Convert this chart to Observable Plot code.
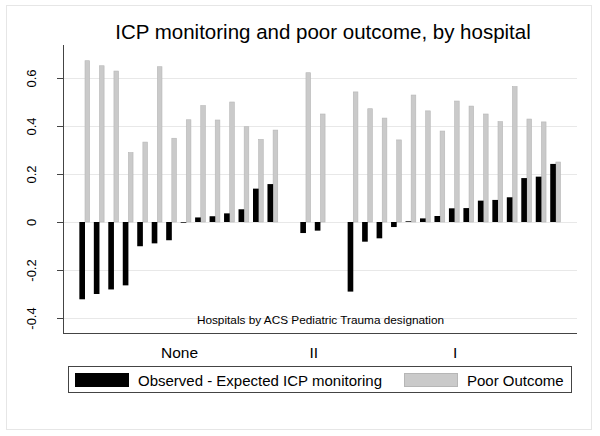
<!DOCTYPE html>
<html>
<head>
<meta charset="utf-8">
<script src="https://cdn.jsdelivr.net/npm/d3@7"></script>
<script src="https://cdn.jsdelivr.net/npm/@observablehq/plot@0.6"></script>
<style>
  body { margin: 0; background: #fff; }
  #wrap { position: relative; width: 600px; height: 436px; background: #fff;
          font-family: "Liberation Sans", Arial, sans-serif; color: #000; overflow: hidden; }
  #border { position: absolute; left: 6px; top: 5px; width: 584px; height: 423px; border: 1px solid #e6e6e6; }
  #title { position: relative; height: 23px; padding-top: 22px; padding-left: 46px; width: 554px;
           text-align: center; font-size: 20.5px; line-height: 20px; white-space: nowrap; }
  #chart { position: relative; height: 317px; }
  #legend { position: relative; margin-left: 68px; margin-top: 4px; width: 502px; height: 25px;
            border: 1px solid #444; font-size: 15px; line-height: 14px; }
  .sw { position: absolute; top: 6px; width: 54px; height: 14px; box-sizing: border-box; }
  .lt { position: absolute; top: 7px; white-space: nowrap; }
</style>
</head>
<body>
<div id="wrap">
  <div id="border"></div>
  <div id="title"></div>
  <div id="chart"></div>
  <div id="legend"></div>
</div>
<script>
// ---- Data ----
const titleText = "ICP monitoring and poor outcome, by hospital";
const captionText = "Hospitals by ACS Pediatric Trauma designation";
const designations = ["None", "II", "I"];
const seriesNames = ["Observed - Expected ICP monitoring", "Poor Outcome"];
const yTicks = [-0.4, -0.2, 0, 0.2, 0.4, 0.6];

const observedNone = [-0.322, -0.300, -0.281, -0.264, -0.101, -0.089, -0.076, -0.003, 0.019, 0.024, 0.036, 0.053, 0.139, 0.158];
const outcomeNone  = [0.672, 0.651, 0.629, 0.289, 0.333, 0.647, 0.349, 0.426, 0.485, 0.425, 0.500, 0.397, 0.344, 0.383];
const observedII = [-0.046, -0.036];
const outcomeII  = [0.622, 0.450];
const observedI = [-0.290, -0.082, -0.068, -0.021, 0.003, 0.015, 0.025, 0.057, 0.058, 0.089, 0.092, 0.103, 0.183, 0.189, 0.242];
const outcomeI  = [0.542, 0.472, 0.433, 0.342, 0.529, 0.463, 0.379, 0.504, 0.483, 0.450, 0.418, 0.564, 0.429, 0.417, 0.250];

// ---- Build table ----
const observedBy = [observedNone, observedII, observedI];
const outcomeBy = [outcomeNone, outcomeII, outcomeI];
const GROUP_GAP = 1.27;   // extra slots between designation groups
const BLACK_W = 0.39, GRAY_W = 0.32;
const rows = [];
let idx = 0;
designations.forEach((g, gi) => {
  observedBy[gi].forEach((v, i) => {
    rows.push({designation: g, pos: idx + gi * GROUP_GAP, observed: v, outcome: outcomeBy[gi][i]});
    idx++;
  });
});
const groups = designations.map(g => {
  const ps = rows.filter(r => r.designation === g).map(r => r.pos);
  return {name: g, center: (d3.min(ps) + d3.max(ps)) / 2};
});
const labelAt = new Map(groups.map(d => [d.center, d.name]));

const xDomain = [-1.52, 34.0];
const yDomain = [-0.4625, 0.7375];
const axisColor = "#444";

const chart = Plot.plot({
  width: 600,
  height: 317,
  marginTop: 0,
  marginBottom: 29,
  marginLeft: 63,
  marginRight: 23,
  style: {fontFamily: "'Liberation Sans', Arial, sans-serif", background: "transparent", color: "#000"},
  x: {type: "linear", domain: xDomain},
  y: {domain: yDomain},
  marks: [
    Plot.ruleY(yTicks, {stroke: "#e8e8e8", strokeWidth: 1}),
    Plot.rect(rows, {x1: d => d.pos, x2: d => d.pos + GRAY_W, y1: d => 0, y2: "outcome",
                     fill: "#cacaca", stroke: "#b6b6b6", strokeWidth: 0.6}),
    Plot.rect(rows, {x1: d => d.pos - BLACK_W, x2: d => d.pos, y1: d => 0, y2: "observed", fill: "#000"}),
    Plot.ruleX([xDomain[0]], {stroke: axisColor, strokeWidth: 1}),
    Plot.ruleY([yDomain[0]], {stroke: axisColor, strokeWidth: 1}),
    Plot.axisY({ticks: yTicks, tickSize: 6, tickFormat: () => "", stroke: axisColor, label: null}),
    Plot.text(yTicks, {y: d => d, text: d => String(d), frameAnchor: "left", dx: -28, rotate: -90,
                       textAnchor: "middle", lineAnchor: "bottom", fontSize: 13, fill: "#000"}),
    Plot.axisX({ticks: groups.map(d => d.center), tickFormat: d => labelAt.get(d), tickSize: 0,
                tickPadding: 13, fontSize: 15.5, label: null, fill: "#000"}),
    Plot.text([captionText], {text: d => d, frameAnchor: "bottom", dy: -9.5, lineAnchor: "bottom",
                              fontSize: 11.8, fill: "#000"})
  ]
});
document.getElementById("chart").appendChild(chart);
document.getElementById("title").textContent = titleText;

// ---- Legend ----
const legend = document.getElementById("legend");
const legendItems = [
  {name: seriesNames[0], fill: "#000", border: "#000", swLeft: 6, txtLeft: 69},
  {name: seriesNames[1], fill: "#cacaca", border: "#b6b6b6", swLeft: 335, txtLeft: 398}
];
legendItems.forEach(it => {
  const sw = document.createElement("div");
  sw.className = "sw";
  sw.style.left = it.swLeft + "px";
  sw.style.background = it.fill;
  sw.style.border = "1px solid " + it.border;
  legend.appendChild(sw);
  const t = document.createElement("div");
  t.className = "lt";
  t.style.left = it.txtLeft + "px";
  t.textContent = it.name;
  legend.appendChild(t);
});
</script>
</body>
</html>
